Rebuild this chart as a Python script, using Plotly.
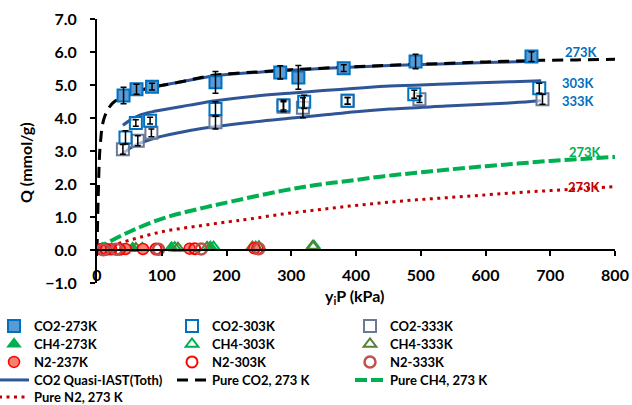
import plotly.graph_objects as go

# ---------------- data ----------------
co2_273_x = [41, 61, 85, 183, 283, 311, 381, 492, 671]
co2_273_y = [4.68, 4.87, 4.95, 5.08, 5.38, 5.23, 5.51, 5.71, 5.86]
co2_273_e = [0.25, 0.15, 0.1, 0.33, 0.2, 0.36, 0.1, 0.22, 0.15]

co2_303_x = [44, 60, 82, 183, 288, 320, 387, 490, 683]
co2_303_y = [3.41, 3.85, 3.92, 4.27, 4.39, 4.49, 4.52, 4.72, 4.9]
co2_303_e = [0.2, 0.1, 0.1, 0.22, 0.15, 0.2, 0.1, 0.12, 0.15]

co2_333_x = [40, 63, 84, 183, 288, 318, 387, 498, 688]
co2_333_y = [3.05, 3.31, 3.55, 3.87, 4.34, 4.31, 4.52, 4.57, 4.57]
co2_333_e = [0.15, 0.15, 0.12, 0.2, 0.15, 0.3, 0.1, 0.1, 0.15]

ch4_273_x = [8, 55, 115, 175, 245]
ch4_273_y = [0.05, 0.06, 0.08, 0.1, 0.1]
ch4_303_x = [12, 70, 120, 180, 250, 335]
ch4_303_y = [0.04, 0.05, 0.07, 0.09, 0.1, 0.12]
ch4_333_x = [10, 60, 125, 170, 240, 333]
ch4_333_y = [0.03, 0.05, 0.06, 0.08, 0.09, 0.11]

n2_237_x = [6, 22, 44, 71, 143, 243]
n2_237_y = [0.02, 0.02, 0.03, 0.03, 0.04, 0.05]
n2_303_x = [14, 35, 91, 151, 248]
n2_303_y = [0.02, 0.02, 0.03, 0.04, 0.04]
n2_333_x = [10, 30, 95, 161, 250]
n2_333_y = [0.01, 0.02, 0.02, 0.03, 0.04]

iast_273_x = [30, 40, 60, 85, 120, 183, 250, 300, 380, 452, 530, 600, 675]
iast_273_y = [4.52, 4.62, 4.8, 4.93, 5.06, 5.28, 5.39, 5.45, 5.53, 5.59, 5.64, 5.68, 5.72]
iast_303_x = [40, 50, 66, 91, 143, 183, 246, 297, 349, 400, 452, 539, 642, 686]
iast_303_y = [3.78, 3.92, 4.09, 4.21, 4.39, 4.52, 4.67, 4.75, 4.83, 4.9, 4.97, 5.03, 5.1, 5.13]
iast_333_x = [37, 55, 91, 143, 183, 246, 297, 349, 400, 452, 539, 642, 686]
iast_333_y = [2.88, 3.13, 3.4, 3.62, 3.74, 3.89, 3.99, 4.09, 4.19, 4.27, 4.36, 4.46, 4.52]

pure_co2_x = [0, 1, 2, 3, 4, 6, 8, 12, 18, 27, 40, 60, 85, 120, 183, 250, 300, 380, 452, 530, 600, 671, 740, 800]
pure_co2_y = [0, 0.9, 1.7, 2.4, 2.9, 3.4, 3.75, 4.05, 4.3, 4.5, 4.63, 4.8, 4.93, 5.06, 5.3, 5.4, 5.46, 5.54, 5.6, 5.65, 5.7, 5.74, 5.76, 5.78]

pure_ch4_x = [0, 15, 51, 102, 154, 210, 287, 338, 390, 441, 493, 544, 600, 650, 700, 750, 800]
pure_ch4_y = [0, 0.2, 0.56, 0.96, 1.23, 1.48, 1.8, 1.97, 2.1, 2.23, 2.34, 2.44, 2.54, 2.62, 2.7, 2.76, 2.82]

pure_n2_x = [0, 20, 51, 102, 154, 205, 236, 287, 338, 390, 441, 493, 544, 600, 650, 700, 750, 800]
pure_n2_y = [0, 0.12, 0.3, 0.56, 0.72, 0.86, 0.94, 1.09, 1.21, 1.33, 1.43, 1.52, 1.59, 1.67, 1.74, 1.8, 1.86, 1.92]

labels = [("273K", 748, 6.0, "#0070C0"), ("303K", 744, 5.06, "#0070C0"),
          ("333K", 744, 4.52, "#0070C0"), ("273K", 754, 2.97, "#00B050"),
          ("273K", 753, 1.91, "#C00000")]

FONT = "Lato, Carlito, Calibri, sans-serif"
W, H = 632, 405
L, R, T, B = 97, 17, 19, 122
PW, PH = W - L - R, H - T - B
fig = go.Figure()

# lines
iast_color = "#2F5597"
for i, (xs, ys) in enumerate([(iast_273_x, iast_273_y), (iast_303_x, iast_303_y), (iast_333_x, iast_333_y)]):
    fig.add_trace(go.Scatter(x=xs, y=ys, mode="lines", line=dict(color=iast_color, width=3, shape="spline"),
                             name="CO2 Quasi-IAST(Toth)", showlegend=(i == 0), legend="legend4", legendrank=1))
fig.add_trace(go.Scatter(x=pure_co2_x, y=pure_co2_y, mode="lines", name="Pure CO2, 273 K",
                         legend="legend4", legendrank=2,
                         line=dict(color="black", width=3, dash="11px,7px", shape="spline")))
fig.add_trace(go.Scatter(x=pure_ch4_x, y=pure_ch4_y, mode="lines", name="Pure CH4, 273 K",
                         legend="legend4", legendrank=3,
                         line=dict(color="#00B050", width=4, dash="12px,4px", shape="spline")))
fig.add_trace(go.Scatter(x=pure_n2_x, y=pure_n2_y, mode="lines", name="Pure N2, 273 K",
                         legend="legend5", legendrank=1,
                         line=dict(color="#C00000", width=3, dash="3px,4.5px", shape="spline")))

# markers
def mk(xs, ys, name, symbol, fill, line, lw, leg, rank, size=11):
    fig.add_trace(go.Scatter(x=xs, y=ys, mode="markers", name=name, legend=leg, legendrank=rank,
                             marker=dict(symbol=symbol, size=size, color=fill,
                                         line=dict(color=line, width=lw))))

mk(ch4_273_x, ch4_273_y, "CH4-273K", "triangle-up", "#00B050", "#00B050", 1.5, "legend2", 1)
mk(ch4_303_x, ch4_303_y, "CH4-303K", "triangle-up", "rgba(255,255,255,0)", "#00B050", 2, "legend2", 2)
mk(ch4_333_x, ch4_333_y, "CH4-333K", "triangle-up", "rgba(255,255,255,0)", "#548235", 2, "legend2", 3)
mk(n2_237_x, n2_237_y, "N2-237K", "circle", "#F4826E", "#FF0000", 1.5, "legend3", 1)
mk(n2_303_x, n2_303_y, "N2-303K", "circle", "rgba(255,255,255,0)", "#FF0000", 2, "legend3", 2)
mk(n2_333_x, n2_333_y, "N2-333K", "circle", "rgba(255,255,255,0)", "#C0504D", 2.5, "legend3", 3)
mk(co2_333_x, co2_333_y, "CO2-333K", "square", "rgba(255,255,255,0.6)", "#6A7A96", 2, "legend", 3, 12)
mk(co2_303_x, co2_303_y, "CO2-303K", "square", "rgba(255,255,255,0.6)", "#0070C0", 2, "legend", 2, 12)
mk(co2_273_x, co2_273_y, "CO2-273K", "square", "#5B9BD5", "#0070C0", 2, "legend", 1, 12)

# error bars on top
for xs, ys, es in [(co2_273_x, co2_273_y, co2_273_e), (co2_303_x, co2_303_y, co2_303_e),
                   (co2_333_x, co2_333_y, co2_333_e)]:
    fig.add_trace(go.Scatter(x=xs, y=ys, mode="markers", showlegend=False, hoverinfo="skip",
                             marker=dict(size=2, color="rgba(0,0,0,0)"),
                             error_y=dict(type="data", array=es, visible=True, color="black",
                                          thickness=1.5, width=3)))

for txt, x, y, c in labels:
    fig.add_annotation(x=x, y=y, text=f"<b>{txt}</b>", showarrow=False,
                       font=dict(family=FONT, size=13, color=c))

# axis titles as annotations (positions given in pixels of the figure)
fig.add_annotation(xref="paper", yref="paper", x=(25 - L) / PW, y=(H - B - 163) / PH,
                   xanchor="center", yanchor="middle",
                   text="<b>Q (mmol/g)</b>", textangle=-90, showarrow=False,
                   font=dict(family=FONT, size=16, color="black"))
fig.add_annotation(xref="paper", yref="paper", x=(354 - L) / PW, y=(H - B - 296) / PH,
                   xanchor="center", yanchor="middle",
                   text="<b>y<sub>i</sub>P (kPa)</b>", showarrow=False,
                   font=dict(family=FONT, size=16, color="black"))

row_centers = [326, 344, 362, 380, 397]
leg_common = dict(orientation="h", x=(-6 - L) / PW,
                  xanchor="left", yanchor="middle", entrywidth=133, entrywidthmode="pixels",
                  font=dict(size=13, weight="bold"), bgcolor="rgba(0,0,0,0)")
legends = {}
for i, yc in enumerate(row_centers):
    key = "legend" if i == 0 else f"legend{i + 1}"
    legends[key] = dict(leg_common, y=(H - B - yc) / PH)

fig.update_layout(
    width=W, height=H,
    margin=dict(l=L, r=R, t=T, b=B, autoexpand=False),
    paper_bgcolor="white", plot_bgcolor="white",
    font=dict(family=FONT, size=14, color="black", weight="bold"),
    xaxis=dict(range=[0, 800], dtick=100, anchor="free", position=0.125,
               showline=True, linecolor="black", linewidth=2, ticks="outside",
               ticklen=5, tickwidth=1.5, tickcolor="black", showgrid=False, zeroline=False,
               tickfont=dict(size=16, weight="bold"), ticklabelstandoff=6),
    yaxis=dict(range=[-1, 7], dtick=1, tickformat=".1f", showline=True, linecolor="black",
               linewidth=2, ticks="outside", ticklen=5, tickwidth=1.5, tickcolor="black",
               showgrid=False, zeroline=False, tickfont=dict(size=16, weight="bold"),
               ticklabelstandoff=10),
    showlegend=True,
    **legends,
)

fig.write_html("out.html", config={"displayModeBar": False},
               post_script="document.body.style.margin='0';")
